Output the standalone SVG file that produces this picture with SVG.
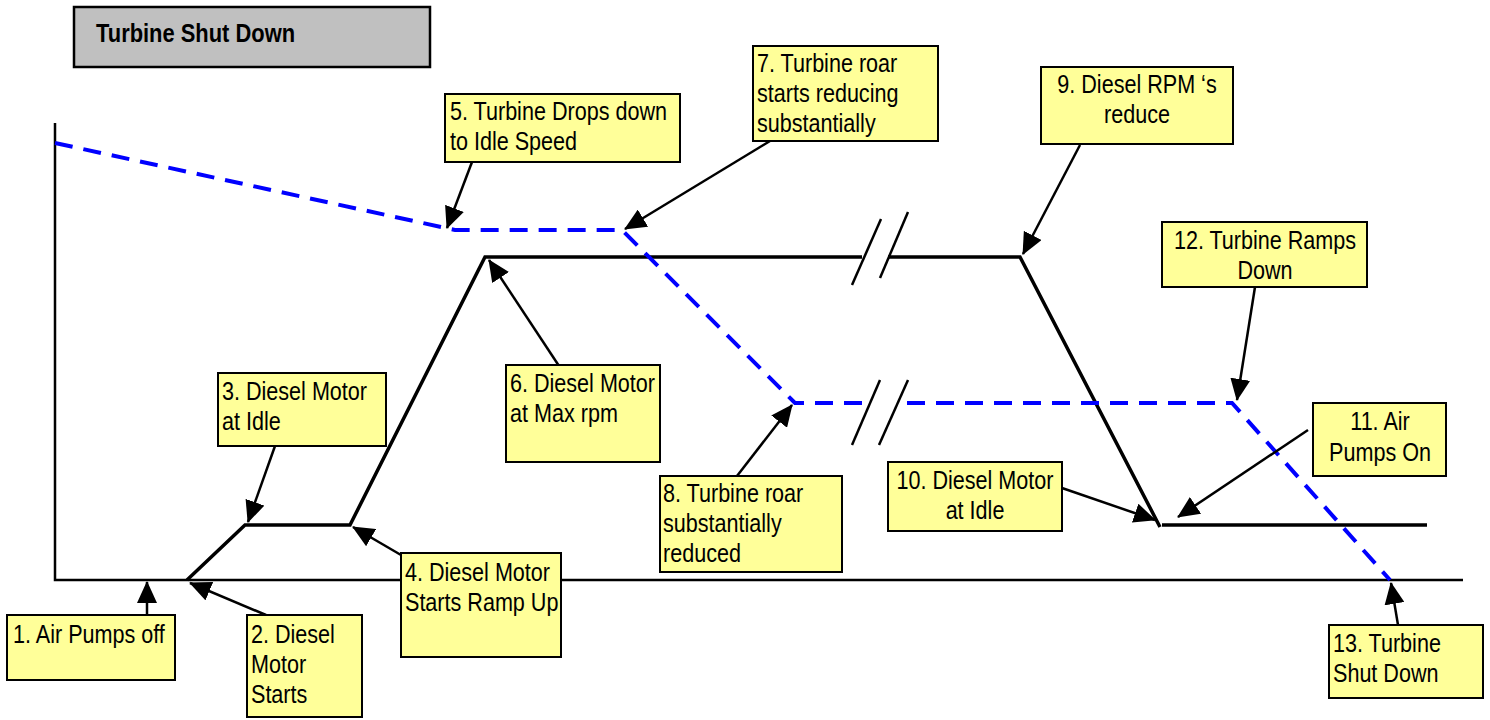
<svg xmlns="http://www.w3.org/2000/svg" width="1490" height="720" viewBox="0 0 1490 720">
  <style>
    .lbl { font-family: "Liberation Sans", Arial, sans-serif; font-size: 26px; fill: #000; }
    .mid { text-anchor: middle; }
    .box { fill: #FFFF99; stroke: #000; stroke-width: 2; }
    .ttl { fill: #C0C0C0; stroke: #000; stroke-width: 2.5; }
    .ttltxt { font-family: "Liberation Sans", Arial, sans-serif; font-size: 25px; font-weight: bold; fill: #000; }
    .axis { stroke: #000; stroke-width: 2.5; fill: none; }
    .diesel { stroke: #000; stroke-width: 3.5; fill: none; stroke-linejoin: miter; }
    .turbine { stroke: #0000FF; stroke-width: 4; fill: none; stroke-dasharray: 18 11; }
    .brk { stroke: #000; stroke-width: 2.5; fill: none; }
    .call { stroke: #000; stroke-width: 2.5; fill: none; marker-end: url(#head); }
  </style>
  <defs>
    <marker id="head" markerUnits="userSpaceOnUse" markerWidth="22" markerHeight="20" refX="21" refY="10" orient="auto">
      <path d="M0,0 L22,10 L0,20 z" fill="#000"/>
    </marker>
  </defs>

  <rect width="1490" height="720" fill="#fff"/>

  <!-- title (narrow lettering via horizontal scale) -->
  <g id="title">
    <rect class="ttl" x="74" y="7" width="356" height="60"/>
    <text class="ttltxt" transform="translate(96,42) scale(0.876,1)">Turbine Shut Down</text>
  </g>

  <!-- axes -->
  <g id="axes">
    <polyline class="axis" points="55,123 55,580 1463,580"/>
  </g>

  <!-- diesel rpm curve -->
  <g id="diesel-curve">
    <polyline class="diesel" points="187,580 245,525 350,525 485,257 862,257"/>
    <polyline class="diesel" points="888,257 1020,257 1160,527"/>
    <line class="diesel" x1="1162" y1="525" x2="1427" y2="525"/>
    <line class="brk" x1="881" y1="219" x2="852" y2="285"/>
    <line class="brk" x1="908" y1="212" x2="880" y2="278"/>
  </g>

  <!-- turbine speed curve -->
  <g id="turbine-curve">
    <polyline class="turbine" points="55,143 455,230 622,230 795,403 862,403"/>
    <polyline class="turbine" points="907,403 1232,403 1390,580"/>
    <line class="brk" x1="880" y1="380" x2="852" y2="445"/>
    <line class="brk" x1="908" y1="380" x2="879" y2="445"/>
  </g>

  <!-- connectors -->
  <g id="connectors">
    <line class="call" x1="147" y1="615" x2="147" y2="582"/>
    <line class="call" x1="266" y1="615" x2="190" y2="583"/>
    <line class="call" x1="275" y1="446" x2="248" y2="522"/>
    <line class="call" x1="401" y1="555" x2="353" y2="527"/>
    <line class="call" x1="472" y1="162" x2="447" y2="228"/>
    <line class="call" x1="563" y1="372" x2="489" y2="260"/>
    <line class="call" x1="770" y1="141" x2="625" y2="229"/>
    <line class="call" x1="737" y1="476" x2="792" y2="405"/>
    <line class="call" x1="1080" y1="145" x2="1023" y2="254"/>
    <line class="call" x1="1062" y1="488" x2="1155" y2="520"/>
    <line class="call" x1="1308" y1="430" x2="1178" y2="517"/>
    <line class="call" x1="1255" y1="287" x2="1237" y2="400"/>
    <line class="call" x1="1398" y1="625" x2="1391" y2="583"/>
  </g>

  <!-- callout notes (narrow lettering via horizontal scale) -->
  <g id="n1">
    <rect class="box" x="7" y="615" width="168" height="65"/>
    <text class="lbl" transform="translate(13,643) scale(0.83,1)">1. Air Pumps off</text>
  </g>
  <g id="n2">
    <rect class="box" x="247" y="615" width="115" height="102"/>
    <text class="lbl" transform="translate(251,643) scale(0.83,1)">2. Diesel</text>
    <text class="lbl" transform="translate(251,673) scale(0.83,1)">Motor</text>
    <text class="lbl" transform="translate(251,703) scale(0.83,1)">Starts</text>
  </g>
  <g id="n3">
    <rect class="box" x="218" y="373" width="168" height="73"/>
    <text class="lbl" transform="translate(222,400) scale(0.83,1)">3. Diesel Motor</text>
    <text class="lbl" transform="translate(222,430) scale(0.83,1)">at Idle</text>
  </g>
  <g id="n4">
    <rect class="box" x="401" y="553" width="160" height="104"/>
    <text class="lbl" transform="translate(405,581) scale(0.83,1)">4. Diesel Motor</text>
    <text class="lbl" transform="translate(405,611) scale(0.83,1)">Starts Ramp Up</text>
  </g>
  <g id="n5">
    <rect class="box" x="445" y="94" width="235" height="68"/>
    <text class="lbl" transform="translate(450,120) scale(0.83,1)">5. Turbine Drops down</text>
    <text class="lbl" transform="translate(450,150) scale(0.83,1)">to Idle Speed</text>
  </g>
  <g id="n6">
    <rect class="box" x="506" y="365" width="154" height="97"/>
    <text class="lbl" transform="translate(510,392) scale(0.83,1)">6. Diesel Motor</text>
    <text class="lbl" transform="translate(510,422) scale(0.83,1)">at Max rpm</text>
  </g>
  <g id="n7">
    <rect class="box" x="753" y="46" width="185" height="95"/>
    <text class="lbl" transform="translate(757,72) scale(0.83,1)">7. Turbine roar</text>
    <text class="lbl" transform="translate(757,102) scale(0.83,1)">starts reducing</text>
    <text class="lbl" transform="translate(757,132) scale(0.83,1)">substantially</text>
  </g>
  <g id="n8">
    <rect class="box" x="660" y="476" width="182" height="96"/>
    <text class="lbl" transform="translate(663,502) scale(0.83,1)">8. Turbine roar</text>
    <text class="lbl" transform="translate(663,532) scale(0.83,1)">substantially</text>
    <text class="lbl" transform="translate(663,562) scale(0.83,1)">reduced</text>
  </g>
  <g id="n9">
    <rect class="box" x="1041" y="67" width="192" height="77"/>
    <text class="lbl mid" transform="translate(1137,93) scale(0.83,1)">9. Diesel RPM ‘s</text>
    <text class="lbl mid" transform="translate(1137,123) scale(0.83,1)">reduce</text>
  </g>
  <g id="n10">
    <rect class="box" x="888" y="462" width="174" height="69"/>
    <text class="lbl mid" transform="translate(975,489) scale(0.83,1)">10. Diesel Motor</text>
    <text class="lbl mid" transform="translate(975,519) scale(0.83,1)">at Idle</text>
  </g>
  <g id="n11">
    <rect class="box" x="1313" y="403" width="133" height="73"/>
    <text class="lbl mid" transform="translate(1380,430) scale(0.83,1)">11. Air</text>
    <text class="lbl mid" transform="translate(1380,461) scale(0.83,1)">Pumps On</text>
  </g>
  <g id="n12">
    <rect class="box" x="1162" y="222" width="205" height="65"/>
    <text class="lbl mid" transform="translate(1265,249) scale(0.83,1)">12. Turbine Ramps</text>
    <text class="lbl mid" transform="translate(1265,279) scale(0.83,1)">Down</text>
  </g>
  <g id="n13">
    <rect class="box" x="1329" y="625" width="154" height="73"/>
    <text class="lbl" transform="translate(1333,652) scale(0.83,1)">13. Turbine</text>
    <text class="lbl" transform="translate(1333,682) scale(0.83,1)">Shut Down</text>
  </g>
</svg>
